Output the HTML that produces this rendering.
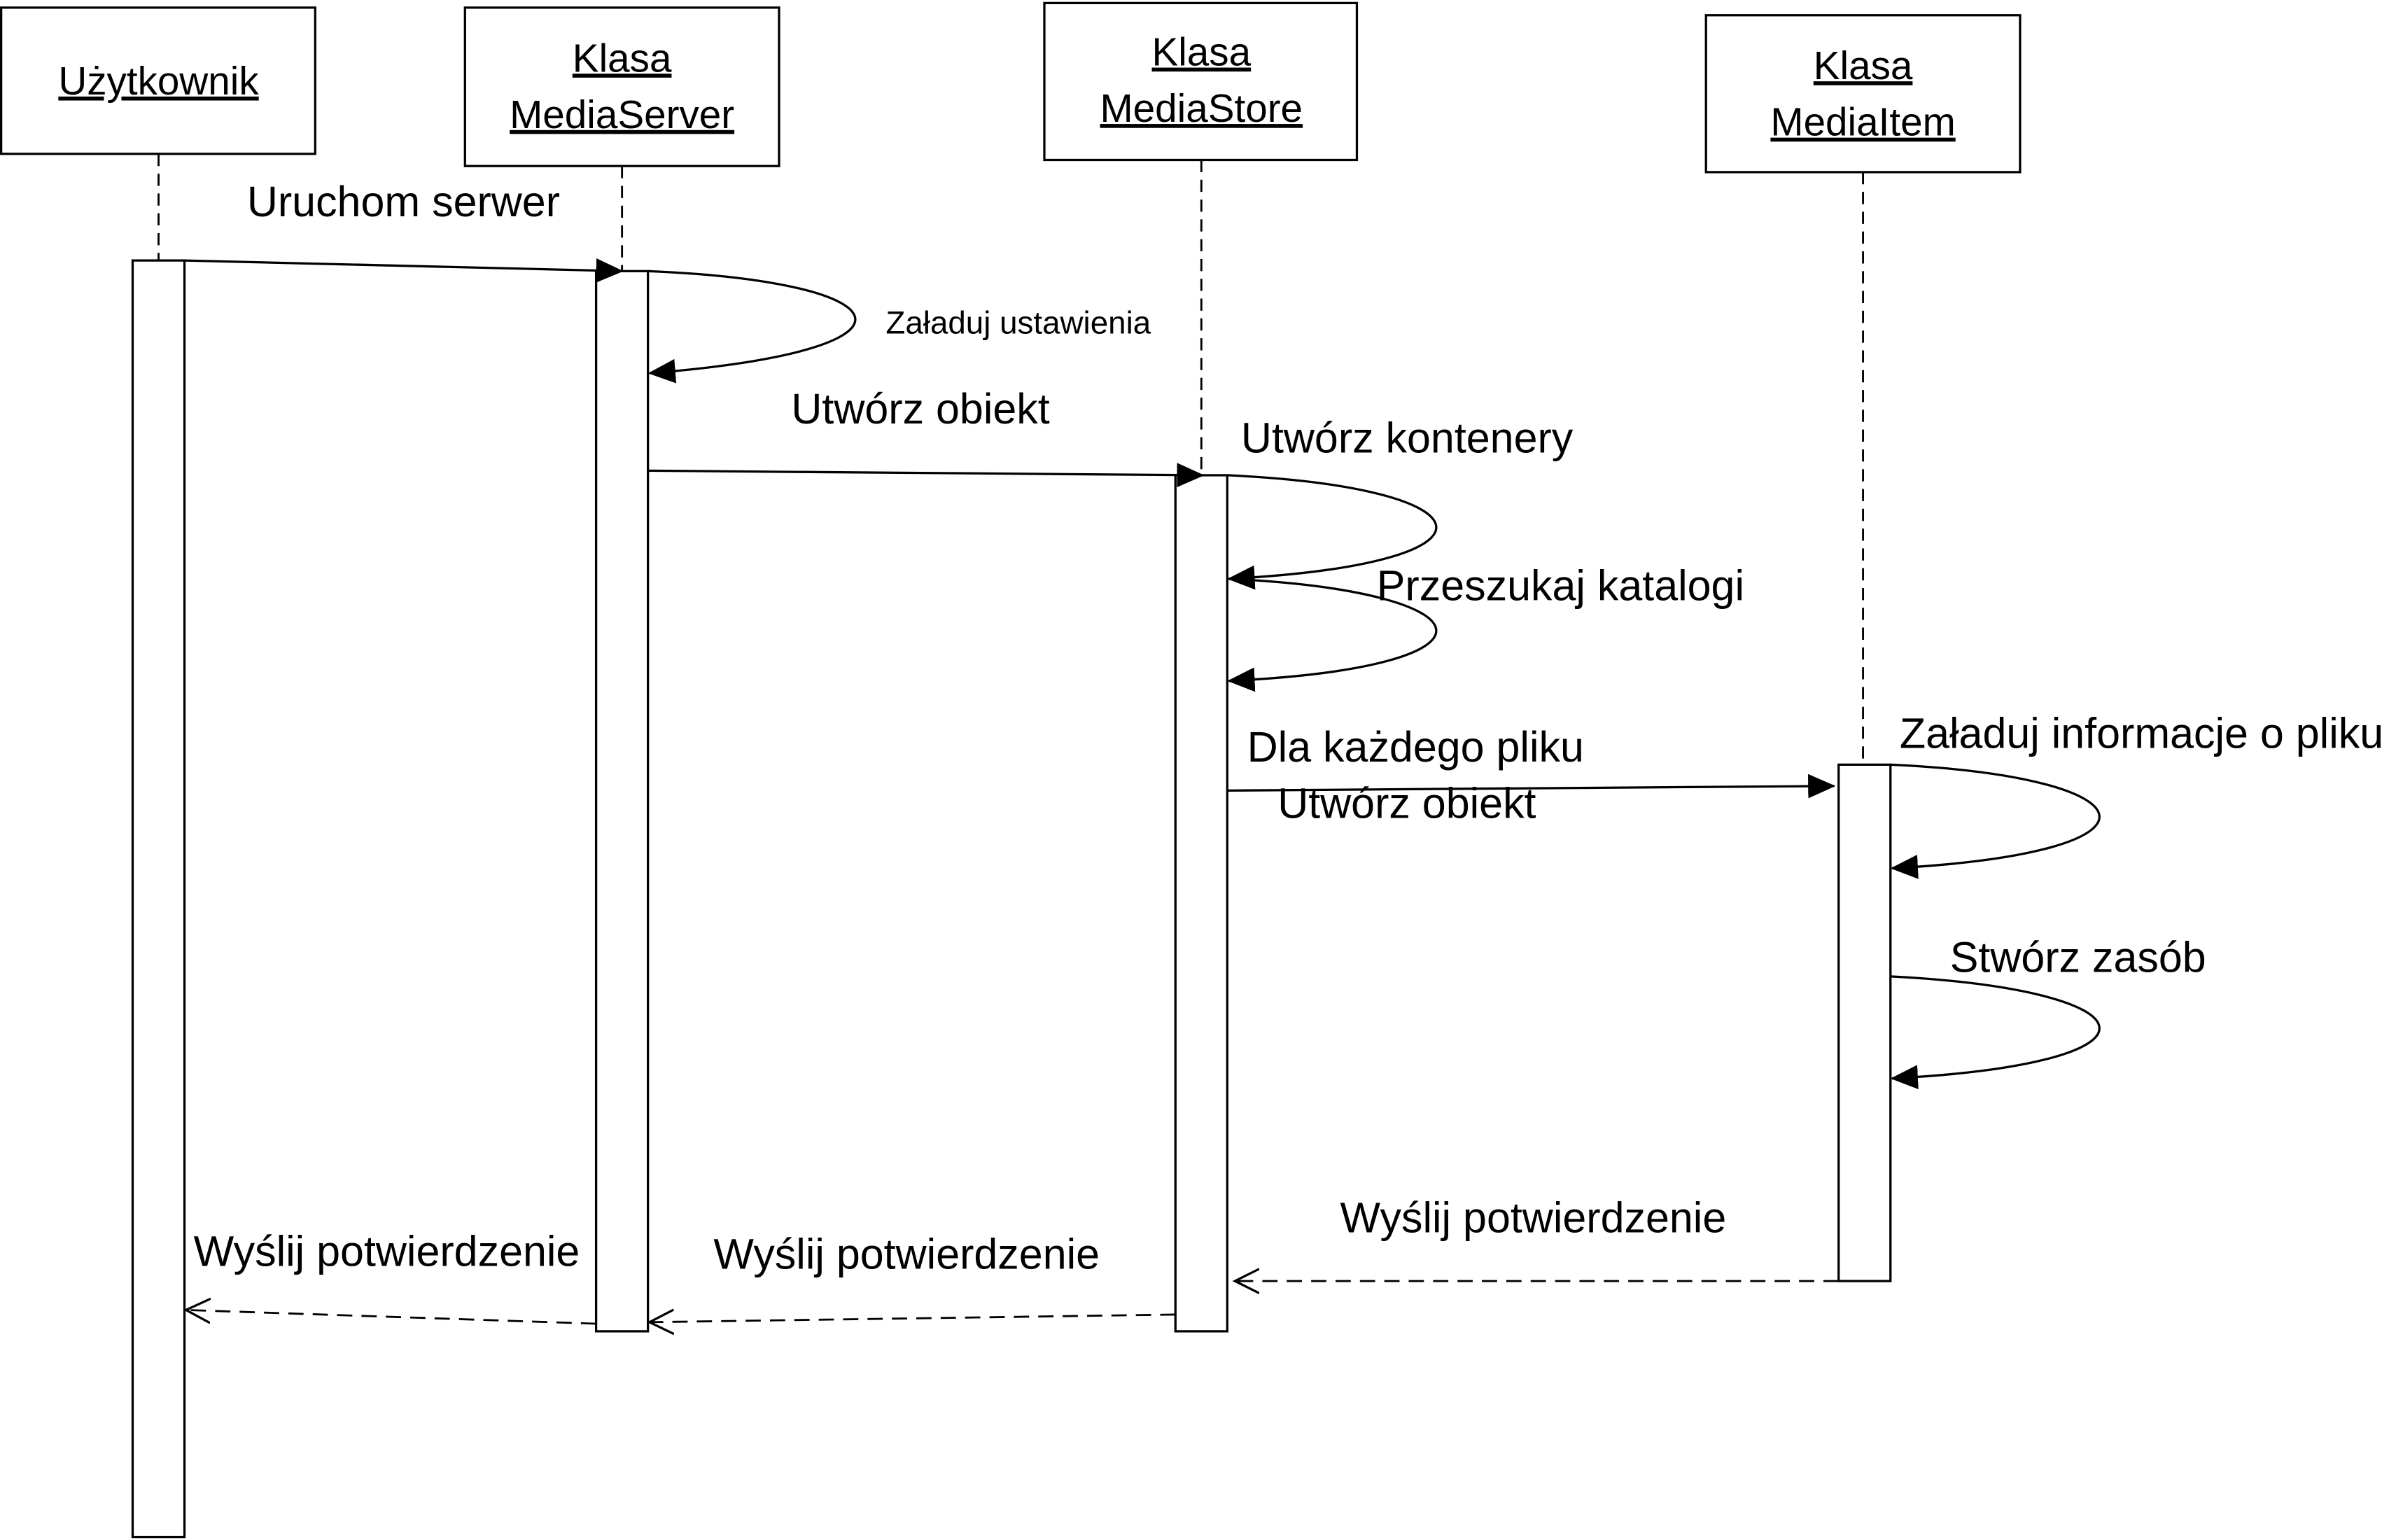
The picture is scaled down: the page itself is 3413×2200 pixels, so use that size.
<!DOCTYPE html>
<html><head><meta charset="utf-8"><style>
html,body{margin:0;padding:0;background:#fff;}
svg{display:block;}
text{font-family:"Liberation Sans",sans-serif;fill:#000;}
</style></head><body>
<svg width="3413" height="2200" viewBox="0 0 1567 1011" preserveAspectRatio="none" xmlns="http://www.w3.org/2000/svg">
<defs>
<marker id="f" markerWidth="18" markerHeight="16" refX="17" refY="8" orient="auto" markerUnits="userSpaceOnUse" viewBox="0 0 18 16"><path d="M0,0 L18,8 L0,16 Z" fill="#000"/></marker>
<marker id="o" markerWidth="18" markerHeight="18" refX="16" refY="9" orient="auto" markerUnits="userSpaceOnUse" viewBox="0 0 18 18"><path d="M0,1 L16,9 L0,17" fill="none" stroke="#000" stroke-width="1.5"/></marker>
</defs>
<g fill="#fff" stroke="#000" stroke-width="1.5">
<rect x="0.75" y="5" width="206" height="96"/>
<rect x="305" y="5" width="206" height="104"/>
<rect x="685" y="2" width="205" height="103"/>
<rect x="1119" y="10" width="206" height="103"/>
</g>
<g stroke="#000" stroke-width="1.3" stroke-dasharray="8,5">
<line x1="104" y1="101" x2="104" y2="171"/>
<line x1="408" y1="109" x2="408" y2="178"/>
<line x1="788" y1="105" x2="788" y2="312"/>
<line x1="1222" y1="113" x2="1222" y2="502"/>
</g>
<g fill="#fff" stroke="#000" stroke-width="1.5">
<rect x="87" y="171" width="34" height="838"/>
<rect x="391" y="178" width="34" height="696"/>
<rect x="771" y="312" width="34" height="562"/>
<rect x="1206" y="502" width="34" height="339"/>
</g>
<g font-size="26" text-anchor="middle" text-decoration="underline">
<text x="104" y="62">Użytkownik</text>
<text x="408" y="47">Klasa</text><text x="408" y="84">MediaServer</text>
<text x="788" y="43">Klasa</text><text x="788" y="80">MediaStore</text>
<text x="1222" y="52">Klasa</text><text x="1222" y="89">MediaItem</text>
</g>
<g fill="none" stroke="#000" stroke-width="1.5">
<line x1="121" y1="171" x2="408" y2="178" marker-end="url(#f)"/>
<path d="M425,178 C596,185 616,230 426,245" marker-end="url(#f)"/>
<line x1="425" y1="309" x2="789" y2="312" marker-end="url(#f)"/>
<path d="M805,312 C980,320 995,370 806,380" marker-end="url(#f)"/>
<path d="M805,380 C980,388 995,438 806,447" marker-end="url(#f)"/>
<line x1="805" y1="519" x2="1203" y2="516" marker-end="url(#f)"/>
<path d="M1240,502 C1415,510 1430,560 1241,570" marker-end="url(#f)"/>
<path d="M1240,641 C1415,650 1430,698 1241,708" marker-end="url(#f)"/>
</g>
<g fill="none" stroke="#000" stroke-width="1.3" stroke-dasharray="10,6">
<line x1="1206" y1="841" x2="810" y2="841" marker-end="url(#o)"/>
<line x1="771" y1="863" x2="426" y2="868" marker-end="url(#o)"/>
<line x1="391" y1="869" x2="122" y2="860" marker-end="url(#o)"/>
</g>
<g font-size="28">
<text x="162" y="142">Uruchom serwer</text>
<text x="581" y="219" font-size="21">Załaduj ustawienia</text>
<text x="519" y="278">Utwórz obiekt</text>
<text x="814" y="297">Utwórz kontenery</text>
<text x="903" y="394">Przeszukaj katalogi</text>
<text x="818" y="500">Dla każdego pliku</text>
<text x="838" y="537">Utwórz obiekt</text>
<text x="1246" y="491">Załaduj informacje o pliku</text>
<text x="1279" y="638">Stwórz zasób</text>
<text x="879" y="809">Wyślij potwierdzenie</text>
<text x="468" y="833">Wyślij potwierdzenie</text>
<text x="127" y="831">Wyślij potwierdzenie</text>
</g>
</svg>
</body></html>
